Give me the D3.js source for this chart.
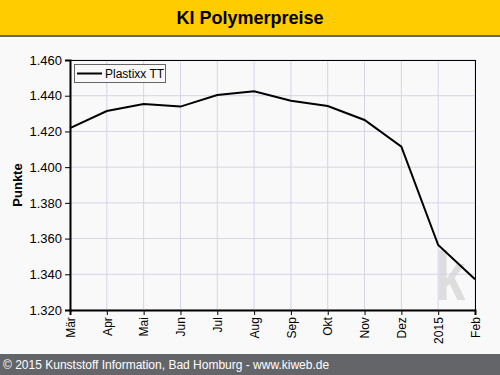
<!DOCTYPE html>
<html>
<head>
<meta charset="utf-8">
<script src="https://cdn.jsdelivr.net/npm/d3@7"></script>
<style>
  body { margin: 0; padding: 0; }
  svg { display: block; font-family: "Liberation Sans", Arial, sans-serif; }
</style>
</head>
<body>
<script>
var months = ["Mär", "Apr", "Mai", "Jun", "Jul", "Aug", "Sep", "Okt", "Nov", "Dez", "2015", "Feb"];
var values = [1.4218, 1.4314, 1.4354, 1.4339, 1.4404, 1.4425, 1.4372, 1.4342, 1.4264, 1.4115, 1.3564, 1.3372];
var yTicks = [1.32, 1.34, 1.36, 1.38, 1.40, 1.42, 1.44, 1.46];
var seriesName = "Plastixx TT";

var width = 500, height = 375;
var margin = { top: 60, right: 25, bottom: 65, left: 70 };

var svg = d3.select("body").append("svg")
  .attr("width", width)
  .attr("height", height);

svg.append("rect").attr("width", width).attr("height", height).attr("fill", "#f9f9f9");

// title bar
svg.append("rect").attr("x", 0).attr("y", 0).attr("width", width).attr("height", 35).attr("fill", "#ffcc00");
svg.append("rect").attr("x", 0).attr("y", 35).attr("width", width).attr("height", 2).attr("fill", "#666666");
svg.append("text")
  .attr("x", width / 2).attr("y", 24)
  .attr("text-anchor", "middle")
  .attr("font-size", 18).attr("font-weight", "bold")
  .attr("fill", "#000")
  .text("KI Polymerpreise");

// footer
svg.append("rect").attr("x", 0).attr("y", 354).attr("width", width).attr("height", 21).attr("fill", "#646569");
svg.append("text")
  .attr("x", 3).attr("y", 369)
  .attr("font-size", 12).attr("fill", "#fff")
  .text("© 2015 Kunststoff Information, Bad Homburg - www.kiweb.de");

var w = width - margin.left - margin.right,
  h = height - margin.top - margin.bottom;

var x = d3.scalePoint().domain(months).range([0, w]);
var y = d3.scaleLinear().domain([1.32, 1.46]).range([h, 0]);

var g = svg.append("g").attr("transform", "translate(" + margin.left + "," + margin.top + ")");

// watermark
g.append("text")
  .attr("transform", "translate(" + (x("2015") - 3) + "," + (h - 10) + ") scale(0.8,1)")
  .attr("font-size", 68).attr("font-weight", "bold")
  .attr("fill", "#dddddd")
  .text("k");

// grid
g.selectAll(".hgrid").data(yTicks).enter().append("line")
  .attr("x1", 0).attr("x2", w)
  .attr("y1", function (d) { return y(d); })
  .attr("y2", function (d) { return y(d); })
  .attr("stroke", "#d6d4e6").attr("stroke-width", 1);

g.selectAll(".vgrid").data(months).enter().append("line")
  .attr("y1", 0).attr("y2", h)
  .attr("x1", function (d) { return x(d); })
  .attr("x2", function (d) { return x(d); })
  .attr("stroke", "#d6d4e6").attr("stroke-width", 1);

// plot border top/right
g.append("line").attr("x1", 0).attr("x2", w).attr("y1", 0.5).attr("y2", 0.5).attr("stroke", "#000");
g.append("line").attr("x1", w + 0.5).attr("x2", w + 0.5).attr("y1", 0).attr("y2", h).attr("stroke", "#000");

var line = d3.line()
  .x(function (d, i) { return x(months[i]); })
  .y(function (d) { return y(d); });

g.append("path").datum(values)
  .attr("d", line)
  .attr("fill", "none")
  .attr("stroke", "#000")
  .attr("stroke-width", 2);

// axes
var yAxis = d3.axisLeft(y).tickValues(yTicks).tickSize(5).tickPadding(3)
  .tickFormat(d3.format(".3f"));

var ya = g.append("g").call(yAxis);
ya.selectAll("text").attr("font-size", 13).attr("fill", "#000").attr("font-family", "Liberation Sans, Arial, sans-serif");
ya.selectAll("line").attr("stroke", "#000");
ya.select(".domain").attr("stroke", "#000").attr("stroke-width", 2);

var xAxis = d3.axisBottom(x).tickSize(5).tickPadding(3);
var xa = g.append("g").attr("transform", "translate(0," + h + ")").call(xAxis);
xa.selectAll("text")
  .attr("font-size", 12).attr("fill", "#000").attr("font-family", "Liberation Sans, Arial, sans-serif")
  .attr("text-anchor", "end")
  .attr("dx", "-0.6em")
  .attr("dy", "0.35em")
  .attr("x", 0).attr("y", 0)
  .attr("transform", "rotate(-90)");
xa.selectAll("line").attr("stroke", "#000");
xa.select(".domain").attr("stroke", "#000").attr("stroke-width", 2);

// y label
svg.append("text")
  .attr("transform", "translate(22," + (margin.top + h / 2) + ") rotate(-90)")
  .attr("text-anchor", "middle")
  .attr("font-size", 13).attr("font-weight", "bold")
  .text("Punkte");

// legend
var legend = g.append("g").attr("transform", "translate(4,4)");
legend.append("rect")
  .attr("x", 0.5).attr("y", 0.5).attr("width", 91).attr("height", 18)
  .attr("fill", "#f9f9f9").attr("stroke", "#666").attr("stroke-width", 1);
legend.append("line")
  .attr("x1", 3).attr("x2", 28).attr("y1", 9.5).attr("y2", 9.5)
  .attr("stroke", "#000").attr("stroke-width", 2);
legend.append("text")
  .attr("x", 31).attr("y", 14)
  .attr("font-size", 12).attr("fill", "#000")
  .text(seriesName);
</script>
</body>
</html>
